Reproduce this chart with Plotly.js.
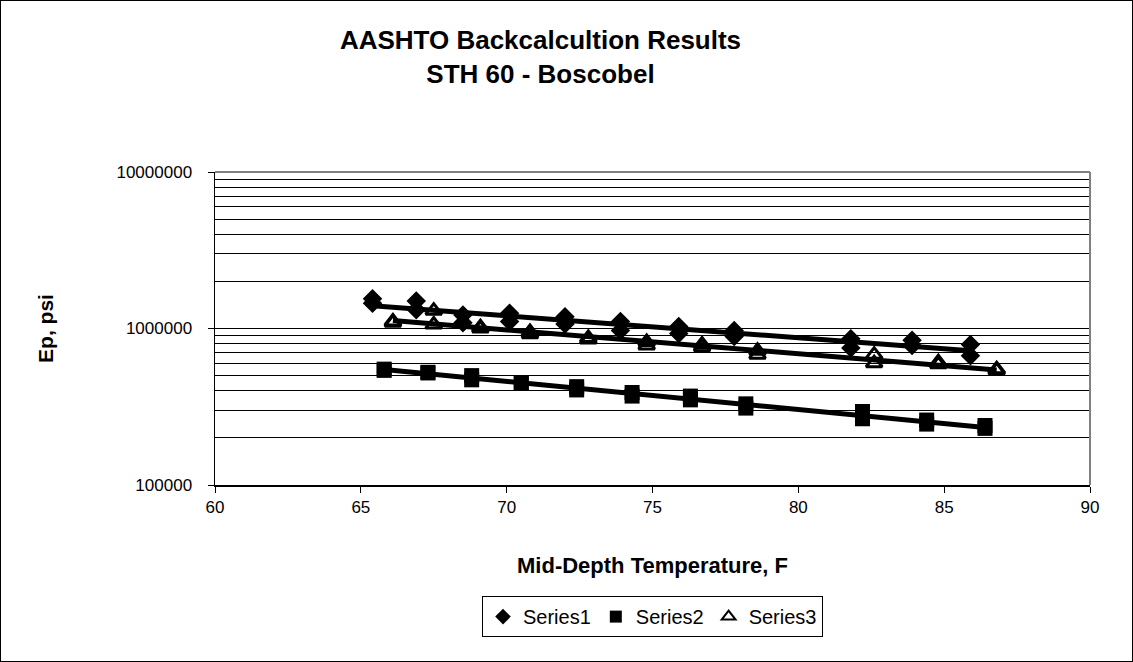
<!DOCTYPE html>
<html>
<head>
<meta charset="utf-8">
<script src="https://cdn.plot.ly/plotly-3.0.1.min.js"></script>
<style>
html,body{margin:0;padding:0;background:#fff;}
#chart{width:1131px;height:660px;border:1px solid #000;}
</style>
</head>
<body>
<div id="chart"></div>
<script>
// Series1 (diamonds)
const s1x = [65.4, 65.4, 66.9, 66.9, 68.5, 68.5, 70.1, 70.1, 72.0, 72.0, 73.9, 73.9, 75.9, 75.9, 77.8, 77.8, 81.8, 81.8, 83.9, 83.9, 85.9, 85.9];
const s1y = [1550000, 1450000, 1500000, 1320000, 1220000, 1090000, 1250000, 1110000, 1190000, 1070000, 1110000, 970000, 1030000, 930000, 970000, 890000, 860000, 750000, 840000, 780000, 790000, 670000];
// Series2 (squares)
const s2x = [65.8, 65.8, 67.3, 67.3, 68.8, 68.8, 70.5, 70.5, 72.4, 72.4, 74.3, 74.3, 76.3, 76.3, 78.2, 78.2, 82.2, 82.2, 84.4, 84.4, 86.4, 86.4];
const s2y = [550000, 540000, 525000, 520000, 500000, 470000, 450000, 445000, 425000, 405000, 390000, 370000, 370000, 350000, 330000, 310000, 295000, 265000, 260000, 245000, 240000, 230000];
// Series3 (open triangles)
const s3x = [66.1, 66.1, 67.5, 67.5, 69.1, 69.1, 70.8, 70.8, 72.8, 72.8, 74.8, 74.8, 76.7, 76.7, 78.6, 78.6, 82.6, 82.6, 84.8, 84.8, 86.8, 86.8];
const s3y = [1110000, 1090000, 1300000, 1060000, 1020000, 1000000, 950000, 920000, 870000, 850000, 820000, 780000, 790000, 760000, 720000, 680000, 680000, 600000, 610000, 590000, 550000, 540000];

const seriesNames = ["Series1", "Series2", "Series3"];
const xTicks = [60, 65, 70, 75, 80, 85, 90];

// exponential trendline (least squares on ln y)
function expFit(xs, ys) {
  const n = xs.length;
  let sx = 0, sy = 0, sxx = 0, sxy = 0;
  for (let i = 0; i < n; i++) {
    const ly = Math.log(ys[i]);
    sx += xs[i]; sy += ly; sxx += xs[i] * xs[i]; sxy += xs[i] * ly;
  }
  const b = (n * sxy - sx * sy) / (n * sxx - sx * sx);
  const a = (sy - b * sx) / n;
  const x0 = Math.min(...xs), x1 = Math.max(...xs);
  const tx = [], ty = [];
  for (let k = 0; k <= 40; k++) {
    const x = x0 + (x1 - x0) * k / 40;
    tx.push(x); ty.push(Math.exp(a + b * x));
  }
  return {x: tx, y: ty};
}

const f1 = expFit(s1x, s1y), f2 = expFit(s2x, s2y), f3 = expFit(s3x, s3y);
const lineStyle = {color: '#000', width: 5};

const traces = [
  {x: f1.x, y: f1.y, mode: 'lines', line: lineStyle, showlegend: false, hoverinfo: 'skip'},
  {x: f2.x, y: f2.y, mode: 'lines', line: lineStyle, showlegend: false, hoverinfo: 'skip'},
  {x: f3.x, y: f3.y, mode: 'lines', line: lineStyle, showlegend: false, hoverinfo: 'skip'},
  {x: s1x, y: s1y, name: seriesNames[0], mode: 'markers',
   marker: {symbol: 'diamond', size: 15, color: '#000'}},
  {x: s2x, y: s2y, name: seriesNames[1], mode: 'markers',
   marker: {symbol: 'square', size: 15, color: '#000'}},
  {x: s3x, y: s3y, name: seriesNames[2], mode: 'markers',
   marker: {symbol: 'triangle-up-open', size: 14, color: '#000', line: {width: 3, color: '#000'}}}
];

const layout = {
  width: 1131, height: 660,
  margin: {l: 214, r: 42, t: 171, b: 176},
  paper_bgcolor: '#fff', plot_bgcolor: '#fff',
  font: {family: 'Arial, Liberation Sans, sans-serif', color: '#000', size: 17},
  title: {text: '<b>AASHTO Backcalcultion Results<br>STH 60 - Boscobel</b>',
          font: {size: 26, color: '#000'}, x: 0.477, xanchor: 'center', y: 0.927, yanchor: 'top'},
  xaxis: {
    range: [60, 90], tickvals: xTicks, ticktext: xTicks.map(String),
    showgrid: false, zeroline: false,
    showline: true, linecolor: '#000', linewidth: 1.5,
    ticks: 'outside', ticklen: 6, tickcolor: '#000',
    tickfont: {size: 17},
    title: {text: '<b>Mid-Depth Temperature, F</b>', font: {size: 22}, standoff: 41}
  },
  yaxis: {
    type: 'log', range: [5, 7],
    tickvals: [100000, 1000000, 10000000], ticktext: ['100000', '1000000', '10000000'],
    showgrid: true, gridcolor: '#000', gridwidth: 1,
    minor: {showgrid: true, gridcolor: '#000', gridwidth: 1, tickvals: [200000,300000,400000,500000,600000,700000,800000,900000,2000000,3000000,4000000,5000000,6000000,7000000,8000000,9000000]},
    zeroline: false,
    showline: true, linecolor: '#000', linewidth: 1.5,
    ticks: 'outside', ticklen: 6, tickcolor: '#000',
    tickfont: {size: 17}, ticklabelstandoff: 12,
    title: {text: '<b>Ep, psi</b>', font: {size: 21}, standoff: 57}
  },
  shapes: [
    {type: 'line', xref: 'paper', yref: 'paper', x0: 0, x1: 1, y0: 1, y1: 1, line: {color: '#808080', width: 2}, layer: 'above'},
    {type: 'line', xref: 'paper', yref: 'paper', x0: 1, x1: 1, y0: 0, y1: 1, line: {color: '#808080', width: 2}, layer: 'above'}
  ],
  showlegend: true,
  legend: {orientation: 'h', x: 0.5, xanchor: 'center', y: -0.355, yanchor: 'top',
           bordercolor: '#000', borderwidth: 1, font: {size: 20}, itemsizing: 'constant',
           itemwidth: 30, tracegroupgap: 0}
};

Plotly.newPlot('chart', traces, layout, {displayModeBar: false, staticPlot: true});
</script>
</body>
</html>
